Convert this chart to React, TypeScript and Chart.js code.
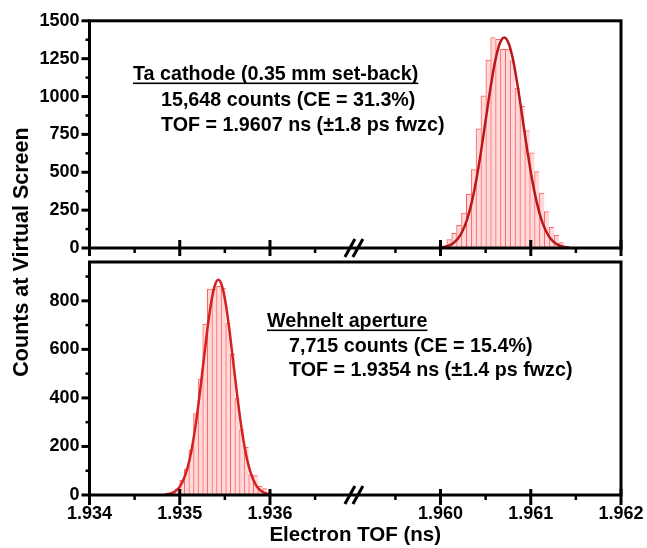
import React, { useEffect, useRef } from 'react';
import { Chart, registerables } from 'chart.js';

Chart.register(...registerables);

// ---------- axis break (compressed x coordinate) ----------
const GAP = 0.02211; // part of the time axis removed between the two segments
const X_MIN = 1.934;
const X_MAX = 1.962;
const BREAK_REAL = 1.95904; // where the "//" mark sits (real ns)

const X_MAJOR = [1.934, 1.935, 1.936, 1.96, 1.961, 1.962];
const X_MAJOR_LABELS = ['1.934', '1.935', '1.936', '1.960', '1.961', '1.962'];
const X_MINOR = [1.9345, 1.9355, 1.9365, 1.9595, 1.9605, 1.9615];

const TOP_Y_TICKS = [0, 250, 500, 750, 1000, 1250, 1500];
const TOP_Y_MINOR = [125, 375, 625, 875, 1125, 1375];
const BOT_Y_TICKS = [0, 200, 400, 600, 800];
const BOT_Y_MINOR = [100, 300, 500, 700, 900];

// ---------- Ta cathode (top) ----------
const TA_BIN_CENTERS = [
  1.960097, 1.960151, 1.960205, 1.960259, 1.960313, 1.960367, 1.960421, 1.960475,
  1.960529, 1.960583, 1.960637, 1.960691, 1.960745, 1.960799, 1.960853, 1.960907,
  1.960961, 1.961015, 1.961069, 1.961123, 1.961177, 1.961231, 1.961285, 1.961339,
];
const TA_COUNTS = [
  55, 97, 150, 230, 355, 517, 786, 1005, 1240, 1390, 1377, 1312,
  1312, 1237, 1055, 935, 775, 628, 504, 362, 240, 137, 84, 36,
];
const TA_FIT_X = [
  1.959985, 1.9600365, 1.960088, 1.9601395, 1.960191, 1.9602425, 1.960294, 1.9603455,
  1.960397, 1.9604485, 1.9605, 1.9605515, 1.960603, 1.9606545, 1.960706, 1.9607575,
  1.960809, 1.9608605, 1.960912, 1.9609635, 1.961015, 1.9610665, 1.961118, 1.9611695,
  1.961221, 1.9612725, 1.961324, 1.9613755, 1.961427,
];
const TA_FIT_Y = [
  3, 7, 15, 32, 61, 111, 188, 301, 451, 636, 843, 1049, 1227, 1347, 1390,
  1347, 1227, 1049, 843, 636, 451, 301, 188, 111, 61, 32, 15, 7, 3,
];

// ---------- Wehnelt aperture (bottom) ----------
const WEH_BIN_CENTERS = [
  1.934974, 1.935025, 1.935076, 1.935127, 1.935178, 1.935229, 1.93528, 1.935331,
  1.935382, 1.935433, 1.935484, 1.935535, 1.935586, 1.935637, 1.935688, 1.935739,
  1.93579, 1.935841, 1.935892, 1.935943,
];
const WEH_COUNTS = [
  25, 60, 107, 185, 335, 478, 704, 848, 848, 860, 852, 708, 580, 398, 270, 196, 84, 80, 36, 26,
];
const WEH_FIT_X = [
  1.93484, 1.934882, 1.934924, 1.934966, 1.935008, 1.93505, 1.935092, 1.935134,
  1.935176, 1.935218, 1.93526, 1.935302, 1.935344, 1.935386, 1.935428, 1.93547,
  1.935512, 1.935554, 1.935596, 1.935638, 1.93568, 1.935722, 1.935764, 1.935806,
  1.935848, 1.93589, 1.935932, 1.935974, 1.936016,
];
const WEH_FIT_Y = [
  2, 5, 10, 20, 39, 71, 120, 192, 288, 406, 538, 670, 783, 860, 887,
  860, 783, 670, 538, 406, 288, 192, 120, 71, 39, 20, 10, 5, 2,
];

const TOP_TEXT = [
  { text: 'Ta cathode (0.35 mm set-back)', underline: true },
  { text: '15,648 counts (CE = 31.3%)' },
  { text: 'TOF = 1.9607 ns (\u00B11.8 ps fwzc)' },
];
const BOT_TEXT = [
  { text: 'Wehnelt aperture', underline: true },
  { text: '7,715 counts (CE = 15.4%)' },
  { text: 'TOF = 1.9354 ns (\u00B11.4 ps fwzc)' },
];

const FONT = '"Liberation Sans", Arial, Helvetica, sans-serif';
const BAR_FILL = '#ffd9d9';
const BAR_EDGE = '#ff6262';

const squeeze = (x: number) => (x > 1.95 ? x - GAP : x);

const panelPlugin = {
  id: 'panelDecor',
  afterDatasetsDraw(chart: any, _args: any, opts: any) {
    const { ctx, chartArea: a, scales } = chart;
    const xs = scales.x;
    const ys = scales.y;
    const line = (x1: number, y1: number, x2: number, y2: number) => {
      ctx.beginPath();
      ctx.moveTo(x1, y1);
      ctx.lineTo(x2, y2);
      ctx.stroke();
    };
    ctx.save();
    ctx.strokeStyle = '#000';
    ctx.lineCap = 'butt';
    ctx.lineWidth = 3;
    ctx.strokeRect(a.left, a.top, a.right - a.left, a.bottom - a.top);

    // x ticks
    X_MAJOR.forEach((v) => {
      const px = xs.getPixelForValue(squeeze(v));
      line(px, a.bottom - opts.xIn, px, a.bottom + opts.xOut);
    });
    ctx.lineWidth = 2.5;
    X_MINOR.forEach((v) => {
      const px = xs.getPixelForValue(squeeze(v));
      line(px, a.bottom, px, a.bottom + 5);
    });
    // y ticks
    ctx.lineWidth = 3;
    opts.yMajor.forEach((v: number) => {
      const py = ys.getPixelForValue(v);
      line(a.left - 8, py, a.left, py);
    });
    ctx.lineWidth = 2.5;
    opts.yMinor.forEach((v: number) => {
      const py = ys.getPixelForValue(v);
      line(a.left - 4, py, a.left, py);
    });

    // axis break "//"
    const bx = xs.getPixelForValue(squeeze(BREAK_REAL));
    ctx.lineWidth = 3;
    [-4, 4].forEach((dx) => {
      line(bx + dx - 5, a.bottom + 9, bx + dx + 5, a.bottom - 9);
    });

    // annotation text
    ctx.fillStyle = '#000';
    ctx.font = `bold 19.7px ${FONT}`;
    ctx.textAlign = 'left';
    ctx.textBaseline = 'alphabetic';
    opts.texts.forEach((t: any, i: number) => {
      const x = i === 0 ? opts.textX0 : opts.textX1;
      const y = opts.textY[i];
      ctx.fillText(t.text, x, y);
      if (t.underline) {
        const w = ctx.measureText(t.text).width;
        ctx.fillRect(x, y + 2.5, w, 1.6);
      }
    });

    if (opts.yTitle) {
      ctx.save();
      ctx.translate(opts.yTitle.x, opts.yTitle.y);
      ctx.rotate(-Math.PI / 2);
      ctx.textAlign = 'center';
      ctx.textBaseline = 'middle';
      ctx.font = `bold 21.5px ${FONT}`;
      ctx.fillText(opts.yTitle.text, 0, 0);
      ctx.restore();
    }
    ctx.restore();
  },
};

const tickFont = { family: FONT, size: 18, weight: 'bold' as const };

function yScale(max: number, ticks: number[]) {
  return {
    type: 'linear',
    min: 0,
    max,
    afterBuildTicks: (s: any) => {
      s.ticks = ticks.map((v) => ({ value: v }));
    },
    afterFit: (s: any) => {
      s.width = 89.5;
    },
    grid: { display: false, drawTicks: false },
    border: { display: false },
    ticks: { font: tickFont, color: '#000', padding: 10, callback: (v: any) => String(v) },
  };
}

function xScale(visible: boolean) {
  return {
    type: 'linear',
    display: visible,
    min: X_MIN,
    max: squeeze(X_MAX),
    offset: false,
    afterBuildTicks: (s: any) => {
      s.ticks = X_MAJOR.map((v) => ({ value: squeeze(v) }));
    },
    afterFit: (s: any) => {
      if (visible) s.height = 53;
      s.paddingLeft = 0;
      s.paddingRight = 0;
    },
    grid: { display: false, drawTicks: false },
    border: { display: false },
    ticks: {
      font: tickFont,
      color: '#000',
      padding: 8,
      autoSkip: false,
      maxRotation: 0,
      callback: (_v: any, i: number) => X_MAJOR_LABELS[i],
    },
    title: {
      display: visible,
      text: 'Electron TOF (ns)',
      color: '#000',
      font: { family: FONT, size: 20.5, weight: 'bold' as const },
      padding: { top: 0, bottom: 0 },
    },
  };
}

function makeConfig(
  binX: number[],
  counts: number[],
  fitX: number[],
  fitY: number[],
  fitColor: string,
  yMax: number,
  yTicks: number[],
  yMinor: number[],
  padding: any,
  xVisible: boolean,
  decor: any
): any {
  return {
    type: 'bar',
    data: {
      datasets: [
        {
          type: 'line',
          label: 'Gaussian fit',
          data: fitX.map((x, i) => ({ x: squeeze(x), y: fitY[i] })),
          borderColor: fitColor,
          borderWidth: 2.5,
          pointRadius: 0,
          fill: false,
          cubicInterpolationMode: 'monotone',
          order: 0,
        },
        {
          type: 'bar',
          label: 'Counts',
          data: binX.map((x, i) => ({ x: squeeze(x), y: counts[i] })),
          backgroundColor: BAR_FILL,
          borderColor: BAR_EDGE,
          borderWidth: { top: 1, left: 1, right: 0, bottom: 0 },
          barPercentage: 1,
          categoryPercentage: 1,
          order: 1,
        },
      ],
    },
    options: {
      responsive: false,
      animation: false,
      events: [],
      layout: { padding },
      plugins: {
        legend: { display: false },
        tooltip: { enabled: false },
        panelDecor: { ...decor, yMajor: yTicks, yMinor },
      },
      scales: {
        x: xScale(xVisible),
        y: yScale(yMax, yTicks),
      },
    },
    plugins: [panelPlugin],
  };
}

export default function App() {
  const topRef = useRef<HTMLCanvasElement>(null);
  const botRef = useRef<HTMLCanvasElement>(null);

  useEffect(() => {
    const top = new Chart(
      topRef.current as HTMLCanvasElement,
      makeConfig(
        TA_BIN_CENTERS, TA_COUNTS, TA_FIT_X, TA_FIT_Y, '#b81818',
        1500, TOP_Y_TICKS, TOP_Y_MINOR,
        { top: 16, right: 26, bottom: 300, left: 0 },
        false,
        {
          xIn: 8, xOut: 8,
          texts: TOP_TEXT, textX0: 133, textX1: 161, textY: [80, 106, 131],
          yTitle: { text: 'Counts at Virtual Screen', x: 22, y: 252 },
        }
      )
    );
    const bot = new Chart(
      botRef.current as HTMLCanvasElement,
      makeConfig(
        WEH_BIN_CENTERS, WEH_COUNTS, WEH_FIT_X, WEH_FIT_Y, '#d42020',
        960, BOT_Y_TICKS, BOT_Y_MINOR,
        { top: 262, right: 26, bottom: 0, left: 0 },
        true,
        {
          xIn: 6, xOut: 10,
          texts: BOT_TEXT, textX0: 267, textX1: 289, textY: [327, 352, 376],
        }
      )
    );
    return () => {
      top.destroy();
      bot.destroy();
    };
  }, []);

  const cs: React.CSSProperties = { position: 'absolute', left: 0, top: 0 };
  return (
    <div style={{ position: 'fixed', left: 0, top: 0, width: 647, height: 548, background: '#fff' }}>
      <canvas ref={topRef} width={647} height={548} style={cs} />
      <canvas ref={botRef} width={647} height={548} style={cs} />
    </div>
  );
}
